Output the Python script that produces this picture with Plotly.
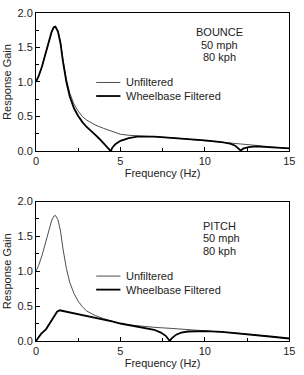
import plotly.graph_objects as go

W, H = 304, 375

# ---------------- data ----------------
bounce_unf_x = [0, 0.15, 0.35, 0.55, 0.75, 0.92, 1.05, 1.15, 1.3, 1.45, 1.6, 1.8, 2.0, 2.25, 2.5,
                2.75, 3.0, 3.5, 4.0, 4.5, 5.0, 5.5, 6.0, 7.0, 8.0, 9.0, 10.0, 11.0, 12.0, 13.0, 14.0, 15.0]
bounce_unf_y = [1.00, 1.08, 1.22, 1.40, 1.58, 1.72, 1.79, 1.80, 1.74, 1.58, 1.32, 1.04, 0.84, 0.68, 0.58,
                0.50, 0.45, 0.38, 0.33, 0.285, 0.245, 0.23, 0.22, 0.21, 0.195, 0.175, 0.155, 0.135, 0.11, 0.085, 0.06, 0.04]

bounce_fil_x = [0, 0.15, 0.35, 0.55, 0.75, 0.92, 1.05, 1.15, 1.3, 1.45, 1.6, 1.8, 2.0, 2.25, 2.5, 2.75,
                3.0, 3.25, 3.5, 3.75, 4.0, 4.2, 4.32, 4.42, 4.52, 4.7, 5.0, 5.5, 6.0, 7.0, 8.0, 9.0, 10.0,
                11.0, 11.5, 11.8, 12.0, 12.12, 12.3, 12.6, 13.0, 14.0, 15.0]
bounce_fil_y = [1.00, 1.08, 1.22, 1.40, 1.58, 1.72, 1.79, 1.80, 1.73, 1.56, 1.29, 1.00, 0.79, 0.62, 0.51, 0.42,
                0.35, 0.30, 0.24, 0.18, 0.12, 0.065, 0.03, 0.0, 0.05, 0.10, 0.15, 0.19, 0.21, 0.21, 0.195, 0.175, 0.155,
                0.13, 0.11, 0.08, 0.04, 0.01, 0.04, 0.06, 0.07, 0.055, 0.04]

pitch_unf_x = [0, 0.15, 0.35, 0.55, 0.75, 0.92, 1.05, 1.15, 1.3, 1.45, 1.6, 1.8, 2.0, 2.25, 2.5,
               2.75, 3.0, 3.5, 4.0, 4.5, 5.0, 5.5, 6.0, 7.0, 8.0, 9.0, 10.0, 11.0, 12.0, 13.0, 14.0, 15.0]
pitch_unf_y = [1.00, 1.08, 1.22, 1.40, 1.58, 1.72, 1.79, 1.80, 1.74, 1.58, 1.32, 1.04, 0.84, 0.68, 0.57,
               0.49, 0.43, 0.365, 0.32, 0.285, 0.25, 0.23, 0.215, 0.195, 0.18, 0.165, 0.15, 0.13, 0.11, 0.085, 0.06, 0.035]

pitch_fil_x = [0, 0.15, 0.3, 0.6, 0.9, 1.1, 1.25, 1.4, 1.6, 2.0, 2.5, 3.0, 3.5, 4.0, 4.5, 5.0, 5.5,
               6.0, 6.5, 7.0, 7.4, 7.7, 7.92, 8.05, 8.3, 8.6, 9.0, 9.5, 10.0, 11.0, 12.0, 13.0, 14.0, 15.0]
pitch_fil_y = [0.0, 0.05, 0.10, 0.17, 0.28, 0.37, 0.42, 0.44, 0.43, 0.41, 0.385, 0.36, 0.335, 0.31, 0.28, 0.25, 0.23,
               0.21, 0.19, 0.16, 0.12, 0.07, 0.0, 0.04, 0.09, 0.12, 0.135, 0.14, 0.14, 0.13, 0.11, 0.085, 0.06, 0.035]

x_ticks = [0, 5, 10, 15]
y_ticks = [0.0, 0.5, 1.0, 1.5, 2.0]
y_tick_labels = ["0.0", "0.5", "1.0", "1.5", "2.0"]

panel_labels = [["BOUNCE", "50 mph", "80 kph"], ["PITCH", "50 mph", "80 kph"]]
legend_labels = ["Unfiltered", "Wheelbase Filtered"]

# ---------------- styling ----------------
FONT = "Liberation Sans, Arial, Helvetica, sans-serif"
UNF_STYLE = dict(color="#3a3a3a", width=0.9)
FIL_STYLE = dict(color="#000000", width=1.8)


def px(x):
    return x / W


def py(y):
    return 1 - y / H


x_dom = [px(34), px(295)]
top_dom = [py(150), py(7)]
bot_dom = [py(346), py(202)]

fig = go.Figure()

fig.add_trace(go.Scatter(x=bounce_unf_x, y=bounce_unf_y, mode="lines", line=UNF_STYLE,
                         name=legend_labels[0], xaxis="x", yaxis="y", showlegend=False))
fig.add_trace(go.Scatter(x=bounce_fil_x, y=bounce_fil_y, mode="lines", line=FIL_STYLE,
                         name=legend_labels[1], xaxis="x", yaxis="y", showlegend=False))
fig.add_trace(go.Scatter(x=pitch_unf_x, y=pitch_unf_y, mode="lines", line=UNF_STYLE,
                         name=legend_labels[0], xaxis="x2", yaxis="y2", showlegend=False))
fig.add_trace(go.Scatter(x=pitch_fil_x, y=pitch_fil_y, mode="lines", line=FIL_STYLE,
                         name=legend_labels[1], xaxis="x2", yaxis="y2", showlegend=False))

axis_common = dict(showline=True, linecolor="black", linewidth=1, mirror=True, showgrid=False,
                   zeroline=False, ticks="inside", ticklen=4, tickcolor="black", tickwidth=1,
                   tickfont=dict(family=FONT, size=11, color="#222"))

xax = dict(axis_common, range=[0, 15], tickvals=x_ticks, domain=x_dom,
           minor=dict(ticks="inside", ticklen=3, dtick=2.5, tick0=0, tickcolor="black"),
           title=dict(text="Frequency (Hz)", font=dict(family=FONT, size=11, color="#222"), standoff=2))
yax = dict(axis_common, range=[0, 2.0], tickvals=y_ticks, ticktext=y_tick_labels,
           minor=dict(ticks="inside", ticklen=3, dtick=0.25, tick0=0, tickcolor="black"),
           title=dict(text="Response Gain", font=dict(family=FONT, size=11, color="#222"), standoff=3))

fig.update_layout(
    width=W, height=H,
    margin=dict(l=0, r=0, t=0, b=0),
    paper_bgcolor="white", plot_bgcolor="white",
    showlegend=False,
    xaxis=dict(xax, anchor="y"),
    yaxis=dict(yax, domain=top_dom, anchor="x"),
    xaxis2=dict(xax, anchor="y2"),
    yaxis2=dict(yax, domain=bot_dom, anchor="x2"),
    font=dict(family=FONT, size=11, color="#222"),
)

annotations = []
shapes = []

# panel labels
for i, (ys, xpos, anchor) in enumerate([([27, 40, 53], 223, "center"), ([227, 240, 253], 204, "left")]):
    for txt, yy in zip(panel_labels[i], ys):
        annotations.append(dict(text=txt, x=px(xpos), y=py(yy), xref="paper", yref="paper",
                                xanchor=anchor, yanchor="middle", showarrow=False,
                                font=dict(family=FONT, size=11, color="#222")))

# legends (drawn in each panel)
for ys in ([79, 93], [279, 293]):
    for j, (lbl, style) in enumerate(zip(legend_labels, [UNF_STYLE, FIL_STYLE])):
        shapes.append(dict(type="line", xref="paper", yref="paper", x0=px(96), x1=px(121),
                           y0=py(ys[j]), y1=py(ys[j]), line=style))
        annotations.append(dict(text=lbl, x=px(125), y=py(ys[j]), xref="paper", yref="paper",
                                xanchor="left", yanchor="middle", showarrow=False,
                                font=dict(family=FONT, size=11, color="#222")))

fig.update_layout(annotations=annotations, shapes=shapes)

fig.write_html("out.html")
